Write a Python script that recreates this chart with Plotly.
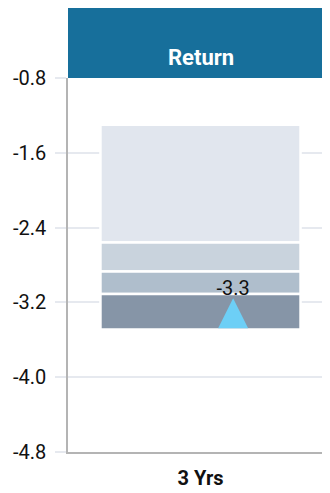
import plotly.graph_objects as go

# ---- data ----
periods = ["3 Yrs"]
# quartile breakpoints (top to bottom) of the peer range
breakpoints = [-1.30, -2.56, -2.87, -3.11, -3.49]
fund_return = [-3.3]
y_ticks = [-0.8, -1.6, -2.4, -3.2, -4.0, -4.8]
header_title = "Return"

# ---- style ----
band_colors = ["#e1e6ee", "#c9d3dd", "#afbecc", "#8695a7"]
header_blue = "#176f9b"
marker_color = "#6dcff6"
grid_color = "#e6e9ef"
axis_color = "#b4b4b4"
font_family = "Roboto, Arial, sans-serif"
marker_offset = 0.123
marker_size = 30
marker_tip_shift_px = 13.5

W, H = 325, 485
M_L, M_R, M_T, M_B = 60, 0, 70, 41
plot_h = H - M_T - M_B
px_per_unit = plot_h / (y_ticks[0] - y_ticks[-1])

fig = go.Figure()

xs = list(range(len(periods)))
for i in range(len(band_colors)):
    upper = breakpoints[i]
    lower = breakpoints[i + 1]
    fig.add_trace(go.Bar(
        x=xs,
        y=[upper - lower],
        base=[lower],
        width=0.755,
        marker=dict(color=band_colors[i], line=dict(color="white", width=2.5)),
        hoverinfo="skip",
        showlegend=False,
    ))

# triangle marker, centred vertically on the value (arrow symbol has its tip at the point)
fig.add_trace(go.Scatter(
    x=[x + marker_offset for x in xs],
    y=[v + marker_tip_shift_px / px_per_unit for v in fund_return],
    mode="markers",
    marker=dict(symbol="arrow-up", size=marker_size, color=marker_color,
                line=dict(width=0)),
    showlegend=False,
    cliponaxis=False,
    hoverinfo="skip",
))
# value label
fig.add_trace(go.Scatter(
    x=[x + marker_offset for x in xs],
    y=fund_return,
    mode="markers+text",
    text=[f"{v:.1f}" for v in fund_return],
    textposition="top center",
    textfont=dict(family=font_family, size=20, color="#111111"),
    marker=dict(size=18, opacity=0),
    showlegend=False,
    cliponaxis=False,
))

# header band
fig.add_shape(type="rect", xref="paper", yref="paper",
              x0=0, x1=1, y0=1, y1=1 + M_T / plot_h,
              fillcolor=header_blue, line=dict(width=0), layer="above")
fig.add_annotation(xref="paper", yref="paper", x=0.5, y=1 + 20.5 / plot_h,
                   text=f"<b>{header_title}</b>", showarrow=False,
                   font=dict(family=font_family, size=22, color="white"),
                   yanchor="middle")

fig.update_layout(
    width=W, height=H,
    margin=dict(l=M_L, r=M_R, t=M_T, b=M_B, pad=0),
    paper_bgcolor="white", plot_bgcolor="white",
    barmode="overlay",
    font=dict(family=font_family, size=20, color="#111111"),
    xaxis=dict(
        range=[-0.5, len(periods) - 0.5],
        tickvals=xs,
        ticktext=[f"<b>{p}</b>" for p in periods],
        showgrid=False, zeroline=False,
        showline=True, linecolor=axis_color, linewidth=1.5,
        ticks="", ticklabelstandoff=7,
        tickfont=dict(family=font_family, size=20, color="#111111"),
        fixedrange=True,
    ),
    yaxis=dict(
        range=[y_ticks[-1], y_ticks[0]],
        tickvals=y_ticks,
        ticktext=[f"{v:.1f}" for v in y_ticks],
        showgrid=True, gridcolor=grid_color, gridwidth=2,
        zeroline=False,
        showline=True, linecolor=axis_color, linewidth=1.5,
        ticks="outside", ticklen=11, tickcolor=grid_color, tickwidth=2,
        ticklabelstandoff=5,
        tickfont=dict(family=font_family, size=20, color="#111111"),
        fixedrange=True,
    ),
)

fig.write_html("out.html")
